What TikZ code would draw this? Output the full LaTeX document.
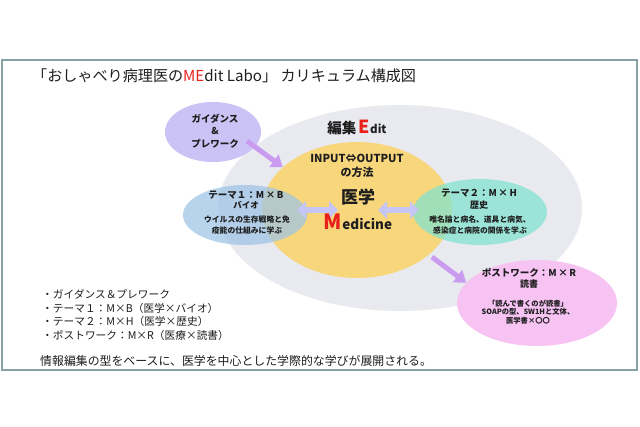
\documentclass[tikz,border=0pt]{standalone}
\usepackage{fontspec}
\newfontfamily\jp{Noto Sans CJK JP}
\usetikzlibrary{shapes.geometric,arrows.meta}
\definecolor{frameC}{HTML}{86A2A4}
\definecolor{grayE}{HTML}{E9EAF0}
\definecolor{yellowE}{HTML}{F7D67C}
\definecolor{blueE}{HTML}{9DC3E6}
\definecolor{greenE}{HTML}{7FE3CF}
\definecolor{lavE}{HTML}{CBC3F5}
\definecolor{pinkE}{HTML}{F6C3F3}
\definecolor{purpA}{HTML}{C99CF0}
\definecolor{lavA}{HTML}{C6C6F6}
\definecolor{redT}{HTML}{E8211B}
\definecolor{txt}{HTML}{1E1E1E}
\tikzset{
  blob/.style={ellipse, inner sep=0pt, draw=none},
  lbl/.style={inner sep=0pt, text=txt, align=center},
  bigarrow/.style={purpA, line width=5pt, -{Triangle[length=11pt,width=15pt]}},
  dblarrow/.style={lavA, line width=6pt, {Triangle[length=9pt,width=17pt]}-{Triangle[length=9pt,width=17pt]}},
}
\begin{document}
\begin{tikzpicture}[x=1pt,y=-1pt]
\useasboundingbox (0,0) rectangle (640,426);
\fill[white] (0,0) rectangle (640,426);
\draw[frameC, line width=2.5pt] (2,60) rectangle (637,370);

% title
\node[lbl, anchor=west, font={\fontsize{15.1}{17}\selectfont\jp}] (title) at (32,76) {「おしゃべり病理医の{\color{redT}ME}dit Labo」 カリキュラム構成図};

% ellipses
\node[blob, fill=grayE, minimum width=364pt, minimum height=206pt] (edit) at (400,208) {};
\node[blob, fill=yellowE, minimum width=190pt, minimum height=136pt] (med) at (357,210) {};
\node[blob, fill=blueE, fill opacity=0.72, minimum width=124pt, minimum height=60pt] (t1) at (245,215) {};
\node[blob, fill=greenE, fill opacity=0.72, minimum width=134pt, minimum height=66pt] (t2) at (480,212) {};
\node[blob, fill=lavE, minimum width=96pt, minimum height=60pt] (guide) at (213,132) {};
\node[blob, fill=pinkE, minimum width=160pt, minimum height=86pt] (post) at (537,303) {};

% arrows
\coordinate (ga) at (247,141);
\draw[bigarrow] (ga) -- (med.150);
\coordinate (pa) at (432,257);
\draw[bigarrow] (pa) -- (post.164);
\coordinate (l1) at (297,210);
\coordinate (l2) at (338,210);
\draw[dblarrow] (l1) -- (l2);
\coordinate (r1) at (378,210);
\coordinate (r2) at (419,210);
\draw[dblarrow] (r1) -- (r2);

% center texts
\node[lbl, font={\jp\bfseries}] (edittxt) at (357,127) {{\fontsize{14.5}{16}\selectfont 編集\,}{\color{redT}\fontsize{18}{18}\selectfont E}{\fontsize{11.5}{12}\selectfont dit}};
\node[lbl, font={\fontsize{11}{13.5}\selectfont\jp\bfseries}] (io) at (357,166) {INPUT⇔OUTPUT\\の方法};
\node[lbl, font={\fontsize{17}{18}\selectfont\jp\bfseries}] (igaku) at (358,197) {医学};
\node[lbl, font={\jp\bfseries}] (medtxt) at (358,222) {{\color{redT}\fontsize{21}{21}\selectfont M}{\fontsize{13.5}{14}\selectfont edicine}};

% guidance
\node[lbl, font={\fontsize{9.5}{12.5}\selectfont\jp\bfseries}] (gtxt) at (215,131) {ガイダンス\\\&\\プレワーク};

% theme 1
\node[lbl, font={\fontsize{9.5}{11}\selectfont\jp\bfseries}] (t1a) at (246,195) {テーマ１：M\,×\,B};
\node[lbl, font={\fontsize{8.5}{10}\selectfont\jp\bfseries}] (t1b) at (246,205) {バイオ};
\node[lbl, font={\fontsize{7.8}{10.5}\selectfont\jp\bfseries}] (t1c) at (247,225) {ウイルスの生存戦略と免\\疫能の仕組みに学ぶ};

% theme 2
\node[lbl, font={\fontsize{9.5}{11}\selectfont\jp\bfseries}] (t2a) at (479,193) {テーマ２：M\,×\,H};
\node[lbl, font={\fontsize{9}{10}\selectfont\jp\bfseries}] (t2b) at (479,205) {歴史};
\node[lbl, font={\fontsize{7.8}{10.5}\selectfont\jp\bfseries}] (t2c) at (480,225) {唯名論と病名、道具と病気、\\感染症と病院の関係を学ぶ};

% postwork
\node[lbl, font={\fontsize{9.5}{11}\selectfont\jp\bfseries}] (pa1) at (529,273) {ポストワーク：M\,×\,R};
\node[lbl, font={\fontsize{9}{10}\selectfont\jp\bfseries}] (pa2) at (529,284) {読書};
\node[lbl, font={\fontsize{7.3}{8.8}\selectfont\jp\bfseries}] (pa3) at (528,312) {「読んで書くのが読書」\\SOAPの型、5W1Hと文体、\\医学書×〇〇};

% list
\node[lbl, anchor=west, align=left, font={\fontsize{10.7}{13.7}\selectfont\jp}] (list) at (42,315) {・ガイダンス＆プレワーク\\・テーマ１：M×B（医学×バイオ）\\・テーマ２：M×H（医学×歴史）\\・ポストワーク：M×R（医療×読書）};

% bottom
\node[lbl, anchor=west, font={\fontsize{11.9}{13}\selectfont\jp}] (bottom) at (40,361) {情報編集の型をベースに、医学を中心とした学際的な学びが展開される。};
\end{tikzpicture}
\end{document}
